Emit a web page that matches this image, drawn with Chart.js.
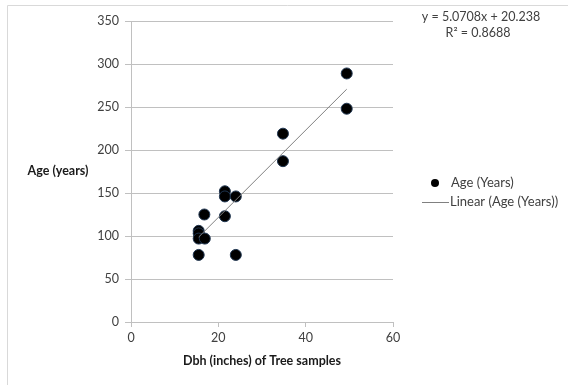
<!DOCTYPE html>
<html>
<head>
<meta charset="utf-8">
<script src="https://cdn.jsdelivr.net/npm/chart.js@4.4.0/dist/chart.umd.min.js"></script>
<style>
  html, body { margin: 0; padding: 0; background: #fff; }
  #wrap { width: 568px; height: 385px; position: relative; }
</style>
</head>
<body>
<div id="wrap"><canvas id="treeChart" width="568" height="385"></canvas></div>
<script>
// Dbh (inches) vs age (years)
const dbhInches = [49.4, 49.4, 34.8, 34.8, 21.5, 21.5, 24.0, 21.5, 16.8, 15.5, 15.5, 15.5, 16.9, 15.5, 24.0];
const ageYears  = [289, 248, 219, 187, 152, 146, 146, 123, 125, 106, 103, 97, 97, 78, 78];

// trendline end points (Excel linear fit, from min to max dbh)
const trendX = [15.5, 49.4];
const trendY = [98.8, 270.7];

const equationLines = ['y = 5.0708x + 20.238', 'R\u00b2 = 0.8688'];
const xTicks = [0, 20, 40, 60];
const yTicks = [0, 50, 100, 150, 200, 250, 300, 350];

const FONT = 'Lato, "Open Sans", sans-serif';
const TEXT = '#404040';
const GRID = '#c0c0c0';

// Frame, y-axis title, equation and legend drawn like Excel does
const excelExtras = {
  id: 'excelExtras',
  afterDraw(chart) {
    const ctx = chart.ctx;
    ctx.save();

    // outer chart border
    ctx.strokeStyle = '#d9d9d9';
    ctx.lineWidth = 1;
    ctx.beginPath();
    ctx.moveTo(7.5, 385);
    ctx.lineTo(7.5, 5.5);
    ctx.lineTo(568, 5.5);
    ctx.stroke();

    // horizontal y axis title
    ctx.fillStyle = '#1a1a1a';
    ctx.font = 'bold 12.5px ' + FONT;
    ctx.textAlign = 'center';
    ctx.textBaseline = 'middle';
    ctx.fillText('Age (years)', 58, 171);

    // trendline equation
    ctx.font = '12.5px ' + FONT;
    ctx.fillStyle = '#404040';
    ctx.fillText(equationLines[0], 481, 17);
    ctx.fillText(equationLines[1], 478, 33);

    // legend
    const ds = chart.data.datasets;
    ctx.font = '13px ' + FONT;
    ctx.textAlign = 'left';
    ctx.fillStyle = '#000';
    ctx.beginPath();
    ctx.arc(435, 183, 4, 0, Math.PI * 2);
    ctx.fill();
    ctx.fillStyle = '#404040';
    ctx.fillText(ds[0].label, 451, 183);

    ctx.strokeStyle = '#808080';
    ctx.beginPath();
    ctx.moveTo(422, 202.5);
    ctx.lineTo(449, 202.5);
    ctx.stroke();
    ctx.fillText(ds[1].label, 450, 202);

    ctx.restore();
  }
};

new Chart(document.getElementById('treeChart'), {
  type: 'scatter',
  data: {
    datasets: [{
      label: 'Age (Years)',
      data: dbhInches.map((x, i) => ({ x: x, y: ageYears[i] })),
      backgroundColor: '#000',
      borderColor: '#1f3550',
      borderWidth: 1,
      pointRadius: 5.5,
      order: 1
    }, {
      label: 'Linear (Age (Years))',
      type: 'line',
      data: trendX.map((x, i) => ({ x: x, y: trendY[i] })),
      borderColor: '#808080',
      borderWidth: 1,
      pointRadius: 0,
      fill: false,
      order: 0
    }]
  },
  options: {
    responsive: false,
    animation: false,
    layout: { padding: { left: 0, right: 175, top: 21, bottom: 0 } },
    plugins: {
      legend: { display: false },
      tooltip: { enabled: false }
    },
    scales: {
      x: {
        type: 'linear',
        min: 0,
        max: 60,
        afterBuildTicks: (axis) => { axis.ticks = xTicks.map(v => ({ value: v })); },
        afterFit: (axis) => { axis.height = 63; },
        grid: { drawOnChartArea: false, color: GRID, tickLength: 5 },
        border: { color: GRID },
        ticks: { color: TEXT, font: { family: FONT, size: 12.5 }, padding: 3 },
        title: {
          display: true,
          text: 'Dbh (inches) of Tree samples',
          color: '#1a1a1a',
          font: { family: FONT, size: 12.5, weight: 'bold' },
          padding: { top: 4, bottom: 17 }
        }
      },
      y: {
        min: 0,
        max: 350,
        afterBuildTicks: (axis) => { axis.ticks = yTicks.map(v => ({ value: v })); },
        afterFit: (axis) => { axis.width = 131; },
        grid: { color: GRID, tickLength: 6 },
        border: { color: GRID },
        ticks: { color: TEXT, font: { family: FONT, size: 12.5 }, padding: 6 }
      }
    }
  },
  plugins: [excelExtras]
});
</script>
</body>
</html>
